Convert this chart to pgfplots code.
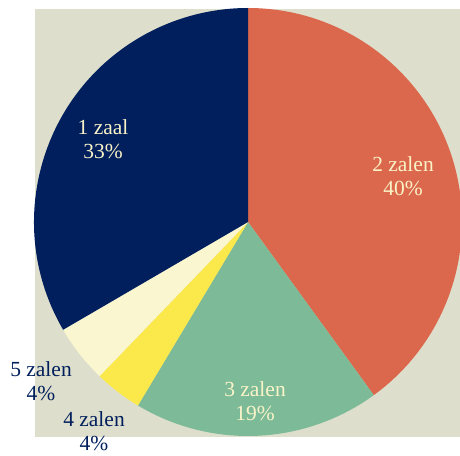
\documentclass[border=0pt]{standalone}
\usepackage{pgfplots}
\usepackage{pgfplotstable}
\pgfplotsset{compat=1.18}
\usepackage{fontspec}
\setmainfont{Liberation Serif}

\definecolor{bgcol}{HTML}{DEDECC}
\definecolor{navy}{HTML}{001F5C}
\definecolor{coral}{HTML}{DB684C}
\definecolor{sage}{HTML}{7DBB98}
\definecolor{yel}{HTML}{FBE84A}
\definecolor{cream}{HTML}{F9F6D0}
\definecolor{lbl}{HTML}{FAF3C8}

% slices clockwise from the top; lx/ly = label position
\pgfplotstableread[col sep=comma]{
name,value,fc,tc,lx,ly
2 zalen,40.0,coral,lbl,403,279
3 zalen,18.6,sage,lbl,255,54
4 zalen,3.6,yel,navy,94,24
5 zalen,4.4,cream,navy,41,74
1 zaal,33.4,navy,lbl,103,316
}\piedata

\begin{document}
\begin{tikzpicture}
\begin{axis}[
    scale only axis,
    width=460pt, height=455pt,
    xmin=0, xmax=460, ymin=0, ymax=455,
    hide axis,
]
\fill[bgcol] (35,18) rectangle (460,446);
\pgfplotstablegetrowsof{\piedata}
\pgfmathtruncatemacro\nrows{\pgfplotsretval-1}
\def\angstart{90}
\pgfplotsforeachungrouped \i in {0,...,\nrows}{%
  \pgfplotstablegetelem{\i}{value}\of\piedata \let\val\pgfplotsretval
  \pgfplotstablegetelem{\i}{fc}\of\piedata \let\fc\pgfplotsretval
  \pgfmathsetmacro\angend{\angstart-3.6*\val}
  \pgfmathsetmacro\xs{248+214*cos(\angstart)}
  \pgfmathsetmacro\ys{233+214*sin(\angstart)}
  \edef\temp{\noexpand\fill[\fc] (248,233) -- (\xs,\ys)
    arc[start angle=\angstart, end angle=\angend, radius=214] -- cycle;}
  \temp
  \let\angstart\angend
}
\pgfplotsforeachungrouped \i in {0,...,\nrows}{%
  \pgfplotstablegetelem{\i}{value}\of\piedata \let\val\pgfplotsretval
  \pgfplotstablegetelem{\i}{name}\of\piedata \let\nm\pgfplotsretval
  \pgfplotstablegetelem{\i}{tc}\of\piedata \let\tc\pgfplotsretval
  \pgfplotstablegetelem{\i}{lx}\of\piedata \let\lx\pgfplotsretval
  \pgfplotstablegetelem{\i}{ly}\of\piedata \let\ly\pgfplotsretval
  \pgfmathtruncatemacro\pct{round(\val)}
  \edef\temp{\noexpand\node[text=\tc, align=center, inner sep=0pt,
    font=\noexpand\fontsize{21.5}{23.5}\noexpand\selectfont] at (\lx,\ly) {\nm\noexpand\\\pct\noexpand\%};}
  \temp
}
\end{axis}
\useasboundingbox (current axis.south west) rectangle (current axis.north east);
\end{tikzpicture}
\end{document}
